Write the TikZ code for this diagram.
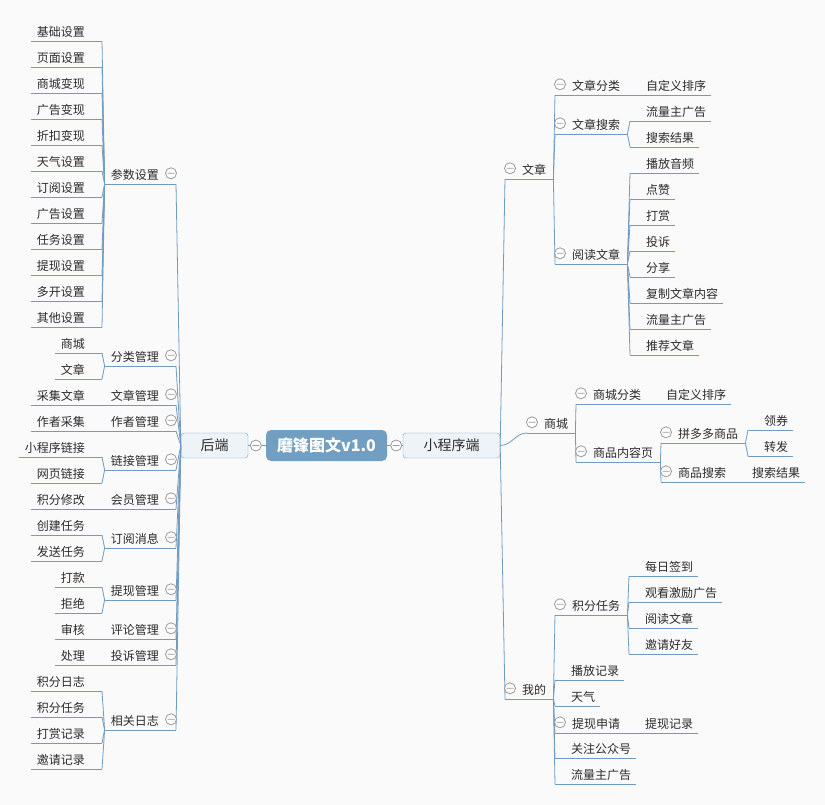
\documentclass[tikz,border=0pt]{standalone}
\usepackage{fontspec}
\setmainfont{Noto Sans CJK SC}
\definecolor{linecol}{HTML}{6F9CC0}
\definecolor{rootcol}{HTML}{729FC1}
\definecolor{boxcol}{HTML}{EEF3F8}
\definecolor{textcol}{HTML}{2B2B2B}
\definecolor{foldcol}{HTML}{9A9A9A}
\definecolor{bgcol}{HTML}{FAFAFB}

\begin{document}
\begin{tikzpicture}[x=1pt, y=-1pt,
    branch/.style={draw=linecol, line width=0.8pt},
    topic/.style={inner sep=0pt, minimum height=21pt, text height=12pt, text depth=0pt,
        text=textcol, font=\fontsize{12}{14}\selectfont,
        append after command={(\tikzlastnode.south west) edge[branch] (\tikzlastnode.south east)}},
    lleaf/.style={topic, anchor=south east,
        execute at begin node={\hspace{6pt}}, execute at end node={\hspace{17pt}}},
    lsub/.style={lleaf},
    rtopic/.style={topic, anchor=south west,
        execute at begin node={\hspace{17pt}}, execute at end node={\hspace{7pt}}},
    rleaf/.style={topic, anchor=south west,
        execute at begin node={\hspace{16pt}}, execute at end node={\hspace{5pt}}},
    rootbox/.style={rounded corners=5pt, fill=rootcol, text=white, inner sep=0pt,
        minimum width=121pt, minimum height=31pt, font=\bfseries\fontsize{16}{19}\selectfont},
    sidebox/.style={rounded corners=3pt, draw=linecol, fill=boxcol, text=textcol, inner sep=0pt,
        minimum height=25pt, font=\fontsize{14}{17}\selectfont},
    fold/.style={draw=foldcol, fill=white, line width=0.8pt}
]
    \fill[bgcol] (0,0) rectangle (825,805);

    % centre
    \node[rootbox] (root) at (326.5,445.5) {磨锋图文v1.0};
    \node[sidebox, minimum width=67pt] (be) at (214.5,445.5) {后端};
    \node[sidebox, minimum width=97pt] (fe) at (451.5,445.5) {小程序端};
    \draw[branch] (be.east) -- (root.west);
    \draw[branch] (root.east) -- (fe.west);

    % back end
    \node[lsub] (param) at (176,184) {参数设置};
    \node[lsub] (cls) at (176,366) {分类管理};
    \node[lsub] (artm) at (176,405) {文章管理};
    \node[lsub] (auth) at (176,431) {作者管理};
    \node[lsub] (link) at (176,470) {链接管理};
    \node[lsub] (member) at (176,509) {会员管理};
    \node[lsub] (notice) at (176,548) {订阅消息};
    \node[lsub] (cashm) at (176,600) {提现管理};
    \node[lsub] (cmt) at (176,639) {评论管理};
    \node[lsub] (cpl) at (176,665) {投诉管理};
    \node[lsub] (logs) at (176,730) {相关日志};

    \foreach \t [count=\i] in {基础设置,页面设置,商城变现,广告变现,折扣变现,天气设置,订阅设置,广告设置,任务设置,提现设置,多开设置,其他设置}
        \node[lleaf] (p\i) at (102, 15+26*\i) {\t};
    \node[lleaf] (cls1) at (102,353) {商城};
    \node[lleaf] (cls2) at (102,379) {文章};
    \node[lleaf] (artm1) at (102,405) {采集文章};
    \node[lleaf] (auth1) at (102,431) {作者采集};
    \node[lleaf] (link1) at (102,457) {小程序链接};
    \node[lleaf] (link2) at (102,483) {网页链接};
    \node[lleaf] (member1) at (102,509) {积分修改};
    \node[lleaf] (notice1) at (102,535) {创建任务};
    \node[lleaf] (notice2) at (102,561) {发送任务};
    \node[lleaf] (cashm1) at (102,587) {打款};
    \node[lleaf] (cashm2) at (102,613) {拒绝};
    \node[lleaf] (cmt1) at (102,639) {审核};
    \node[lleaf] (cpl1) at (102,665) {处理};
    \foreach \t [count=\i] in {积分日志,积分任务,打赏记录,邀请记录}
        \node[lleaf] (log\i) at (102, 665+26*\i) {\t};

    \foreach \n in {param,cls,artm,auth,link,member,notice,cashm,cmt,cpl,logs}
        \draw[branch] (\n.south east) -- (be.west);
    \foreach \i in {1,...,12}
        \draw[branch] (param.south west) -- (p\i.south east);
    \foreach \i in {1,2} {
        \draw[branch] (cls.south west) -- (cls\i.south east);
        \draw[branch] (link.south west) -- (link\i.south east);
        \draw[branch] (notice.south west) -- (notice\i.south east);
        \draw[branch] (cashm.south west) -- (cashm\i.south east);
    }
    \draw[branch] (artm.south west) -- (artm1.south east);
    \draw[branch] (auth.south west) -- (auth1.south east);
    \draw[branch] (member.south west) -- (member1.south east);
    \draw[branch] (cmt.south west) -- (cmt1.south east);
    \draw[branch] (cpl.south west) -- (cpl1.south east);
    \foreach \i in {1,...,4}
        \draw[branch] (logs.south west) -- (log\i.south east);

    % mini program
    \node[rtopic] (art) at (505,179) {文章};
    \node[rtopic] (mall) at (527,433) {商城};
    \node[rtopic] (mine) at (505,699) {我的};

    \node[rtopic] (artcls) at (555,95) {文章分类};
    \node[rtopic] (artsrch) at (555,134) {文章搜索};
    \node[rtopic] (read) at (555,264) {阅读文章};
    \node[rleaf] (artcls1) at (630,95) {自定义排序};
    \node[rleaf] (srch1) at (630,121) {流量主广告};
    \node[rleaf] (srch2) at (630,147) {搜索结果};
    \foreach \t [count=\i] in {播放音频,点赞,打赏,投诉,分享,复制文章内容,流量主广告,推荐文章}
        \node[rleaf] (read\i) at (630, 147+26*\i) {\t};

    \node[rtopic] (mallcls) at (576,404) {商城分类};
    \node[rtopic] (goods) at (576,462) {商品内容页};
    \node[rleaf] (mallcls1) at (650,404) {自定义排序};
    \node[rtopic] (pdd) at (661,443) {拼多多商品};
    \node[rtopic] (gsrch) at (661,482) {商品搜索};
    \node[rleaf] (pdd1) at (748,430) {领券};
    \node[rleaf] (pdd2) at (748,456) {转发};
    \node[rleaf] (gsrch1) at (736,482) {搜索结果};

    \node[rtopic] (pts) at (555,615) {积分任务};
    \foreach \t [count=\i] in {每日签到,观看激励广告,阅读文章,邀请好友}
        \node[rleaf] (pts\i) at (629, 550+26*\i) {\t};
    \node[rleaf] (play) at (555,680) {播放记录};
    \node[rleaf] (weather) at (555,706) {天气};
    \node[rtopic] (cash) at (555,733) {提现申请};
    \node[rleaf] (cash1) at (629,733) {提现记录};
    \node[rleaf] (follow) at (555,758) {关注公众号};
    \node[rleaf] (ads) at (555,784) {流量主广告};

    \draw[branch] (fe.east) -- (art.south west);
    \draw[branch] (fe.east) to[out=0, in=180] (mall.south west);
    \draw[branch] (fe.east) -- (mine.south west);
    \foreach \n in {artcls,artsrch,read}
        \draw[branch] (art.south east) -- (\n.south west);
    \draw[branch] (artcls.south east) -- (artcls1.south west);
    \foreach \n in {srch1,srch2}
        \draw[branch] (artsrch.south east) -- (\n.south west);
    \foreach \i in {1,...,8}
        \draw[branch] (read.south east) -- (read\i.south west);
    \foreach \n in {mallcls,goods}
        \draw[branch] (mall.south east) -- (\n.south west);
    \draw[branch] (mallcls.south east) -- (mallcls1.south west);
    \foreach \n in {pdd,gsrch}
        \draw[branch] (goods.south east) -- (\n.south west);
    \foreach \n in {pdd1,pdd2}
        \draw[branch] (pdd.south east) -- (\n.south west);
    \draw[branch] (gsrch.south east) -- (gsrch1.south west);
    \foreach \n in {pts,play,weather,cash,follow,ads}
        \draw[branch] (mine.south east) -- (\n.south west);
    \foreach \i in {1,...,4}
        \draw[branch] (pts.south east) -- (pts\i.south west);
    \draw[branch] (cash.south east) -- (cash1.south west);

    % fold marks
    \draw[fold] ([xshift=-10pt]root.west) circle (5.5pt) ++(-3.5pt,0) -- ++(7pt,0);
    \draw[fold] ([xshift=9pt]root.east) circle (5.5pt) ++(-3.5pt,0) -- ++(7pt,0);
    \foreach \n in {param,cls,artm,auth,link,member,notice,cashm,cmt,cpl,logs}
        \draw[fold] ([xshift=-5pt]\n.east) circle (5.5pt) ++(-3.5pt,0) -- ++(7pt,0);
    \foreach \n in {art,mall,mine,artcls,artsrch,read,mallcls,goods,pdd,gsrch,pts,cash}
        \draw[fold] ([xshift=5pt]\n.west) circle (5.5pt) ++(-3.5pt,0) -- ++(7pt,0);
\end{tikzpicture}
\end{document}
